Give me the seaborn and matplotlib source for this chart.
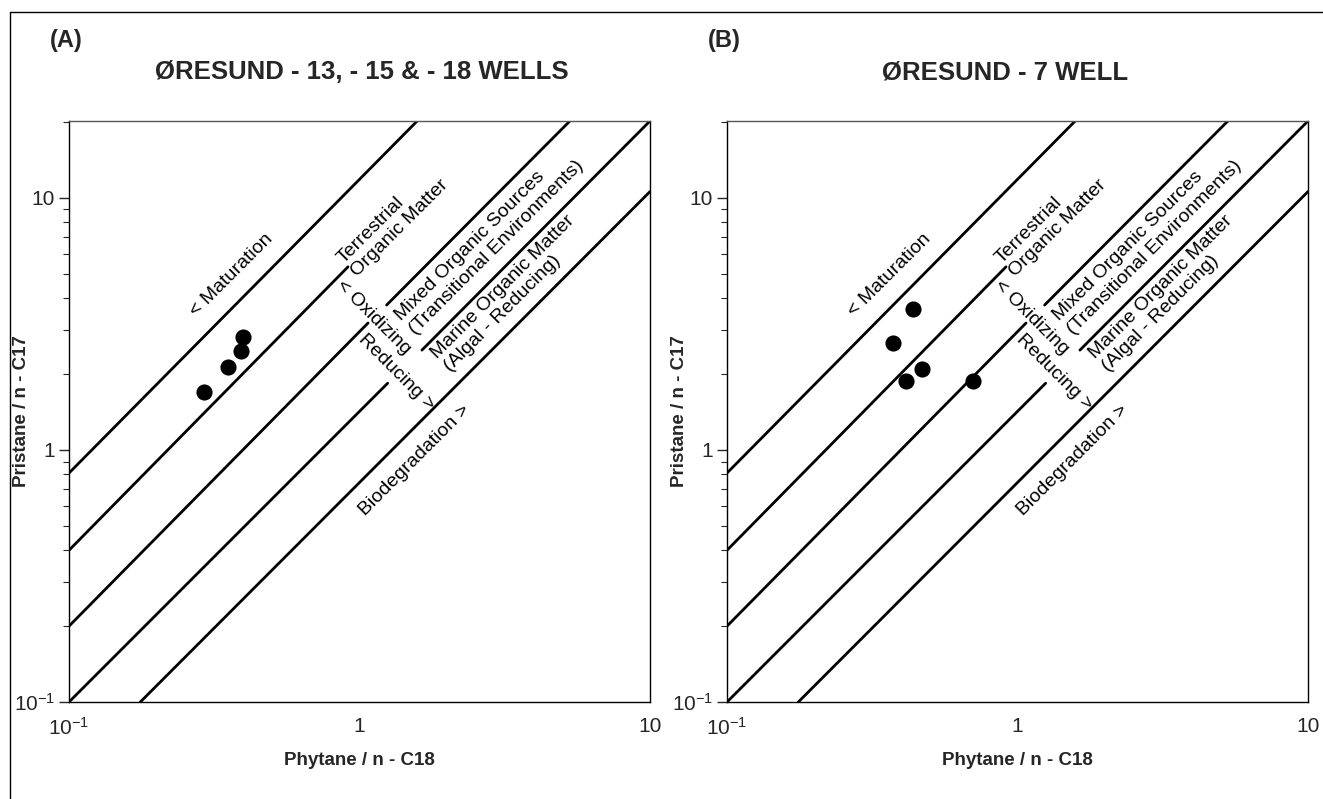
import numpy as np
import pandas as pd
import matplotlib
matplotlib.use("Agg")
import matplotlib.pyplot as plt
import seaborn as sns
from matplotlib.lines import Line2D
from matplotlib.ticker import FixedLocator, LogLocator, NullFormatter, NullLocator

# ---------------- data ----------------
panel_tags = ["(A)", "(B)"]
panel_titles = ["ØRESUND - 13, - 15 & - 18 WELLS", "ØRESUND - 7 WELL"]

a_phytane = [0.397, 0.391, 0.352, 0.292]
a_pristane = [2.81, 2.47, 2.14, 1.70]
b_phytane = [0.437, 0.373, 0.469, 0.413, 0.703]
b_pristane = [3.63, 2.66, 2.10, 1.88, 1.88]

# boundary line segments (end points in data units, gaps left for labels)
seg_x0 = [0.10, 0.10, 0.10, 1.24, 0.10, 1.64, 0.176]
seg_y0 = [0.81, 0.40, 0.20, 3.76, 0.10, 2.49, 0.10]
seg_x1 = [1.58, 0.913, 1.07, 5.30, 1.25, 10.0, 10.0]
seg_y1 = [20.2, 5.33, 3.19, 20.2, 1.84, 20.2, 10.6]

zone_texts = ["< Maturation", "Terrestrial\nOrganic Matter", "< Oxidizing", "Reducing >",
              "Mixed Organic Sources\n(Transitional Environments)",
              "Marine Organic Matter\n(Algal - Reducing)", "Biodegradation >"]
zone_x = [0.364, 0.909, 1.12, 1.34, 1.434, 1.90, 1.55]
zone_y = [4.95, 5.30, 3.36, 2.04, 3.13, 2.22, 0.913]
zone_rot = [45, 45, -45, -45, 45, 45, 45]
zone_ha = ["center", "left", "center", "center", "left", "left", "center"]

tick_values = [0.1, 1, 10]
tick_labels = [r"$\mathregular{10^{-1}}$", "1", "10"]
x_label = "Phytane / n - C18"
y_label = "Pristane / n - C17"
x_range = (0.1, 10)
y_range = (0.1, 20.2)

# ---------------- style ----------------
sns.set_theme(style="white")
plt.rcParams["font.family"] = ["Liberation Sans", "DejaVu Sans"]
plt.rcParams["mathtext.fontset"] = "custom"
plt.rcParams["mathtext.rm"] = "Liberation Sans"
plt.rcParams["mathtext.it"] = "Liberation Sans:italic"
plt.rcParams["mathtext.bf"] = "Liberation Sans:bold"

W, H = 1323, 799
fig = plt.figure(figsize=(W / 100, H / 100), dpi=100)
fig.patch.set_facecolor("white")

ax_left_px = [69, 727]
ax_w_px = 581
ax_top_px, ax_bot_px = 121, 702
tag_x_px = [50, 708]
title_cx_px = [362, 1005]

seg_df = pd.DataFrame({
    "seg": np.repeat(np.arange(len(seg_x0)), 2),
    "x": np.ravel(np.column_stack([seg_x0, seg_x1])),
    "y": np.ravel(np.column_stack([seg_y0, seg_y1])),
})
pts = [pd.DataFrame({"x": a_phytane, "y": a_pristane}),
       pd.DataFrame({"x": b_phytane, "y": b_pristane})]

for i in range(2):
    ax = fig.add_axes([ax_left_px[i] / W, (H - ax_bot_px) / H,
                       ax_w_px / W, (ax_bot_px - ax_top_px) / H])
    ax.set_xscale("log")
    ax.set_yscale("log")
    ax.set_xlim(*x_range)
    ax.set_ylim(*y_range)

    sns.lineplot(data=seg_df, x="x", y="y", units="seg", estimator=None,
                 sort=False, color="black", linewidth=2.0, ax=ax, legend=False)
    sns.scatterplot(data=pts[i], x="x", y="y", color="black", s=135,
                    edgecolor="black", linewidth=0, ax=ax, legend=False, zorder=5)

    for t, xx, yy, r, ha in zip(zone_texts, zone_x, zone_y, zone_rot, zone_ha):
        ax.text(xx, yy, t, rotation=r, rotation_mode="anchor", ha=ha,
                va="center", multialignment="left", fontsize=14, color="black",
                linespacing=1.15)

    for s in ax.spines.values():
        s.set_visible(True)
        s.set_color("black")
        s.set_linewidth(1.0)
    ax.spines["top"].set_color("#555555")

    ax.xaxis.set_major_locator(FixedLocator(tick_values))
    ax.xaxis.set_minor_locator(NullLocator())
    ax.set_xticklabels(tick_labels)
    ax.yaxis.set_major_locator(FixedLocator(tick_values))
    ax.yaxis.set_minor_locator(LogLocator(base=10, subs=np.arange(2, 10)))
    ax.yaxis.set_minor_formatter(NullFormatter())
    ax.set_yticklabels(tick_labels)
    ax.tick_params(axis="x", which="both", length=0, pad=11, labelsize=15)
    ax.tick_params(axis="y", which="major", direction="out", length=7,
                   width=1, pad=3, labelsize=15, left=True)
    ax.tick_params(axis="y", which="minor", direction="out", length=4,
                   width=0.8, left=True)

    ax.set_xlabel(x_label, fontsize=13.5, fontweight="bold")
    ax.set_ylabel(y_label, fontsize=13.5, fontweight="bold")
    ax.xaxis.set_label_coords(0.5, -(752 - ax_bot_px) / (ax_bot_px - ax_top_px))
    ax.yaxis.set_label_coords(-(ax_left_px[0] - 30) / ax_w_px, 0.5)
    ax.grid(False)

    fig.text(tag_x_px[i] / W, 1 - 41 / H, panel_tags[i], fontsize=17,
             fontweight="bold", ha="left", va="center")
    fig.text(title_cx_px[i] / W, 1 - 72 / H, panel_titles[i], fontsize=18.5,
             fontweight="bold", ha="center", va="center")

# outer frame (top and left edges)
fig.add_artist(Line2D([10 / W, 10 / W], [0, 1 - 12 / H], transform=fig.transFigure,
                      color="black", linewidth=1.0))
fig.add_artist(Line2D([10 / W, 1], [1 - 12 / H, 1 - 12 / H], transform=fig.transFigure,
                      color="black", linewidth=1.0))

fig.savefig("out.png", dpi=100, facecolor="white")
